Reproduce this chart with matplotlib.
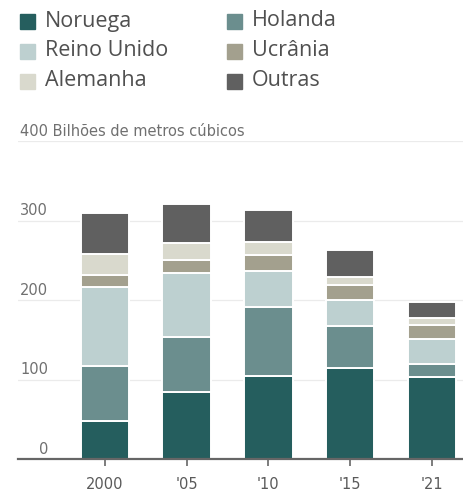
import matplotlib
matplotlib.use("Agg")
import matplotlib.pyplot as plt
from matplotlib.patches import Rectangle
import numpy as np

years = ["2000", "'05", "'10", "'15", "'21"]
series_names = ["Noruega", "Holanda", "Reino Unido", "Ucrânia", "Alemanha", "Outras"]
noruega = [48, 84, 105, 114, 103]
holanda = [69, 70, 86, 53, 17]
reino_unido = [99, 80, 46, 33, 31]
ucrania = [16, 16, 20, 19, 18]
alemanha = [26, 22, 16, 10, 8]
outras = [51, 49, 40, 34, 21]
yticks = [0, 100, 200, 300]

colors = ["#255e5e", "#6b8e8e", "#bdd0d0", "#a3a08e", "#d9d9cd", "#606060"]
series = [noruega, holanda, reino_unido, ucrania, alemanha, outras]

W, H = 464, 495
fig = plt.figure(figsize=(W / 100, H / 100), dpi=100)
ax_left, ax_right, ax_bottom, ax_top = 18, 464, 459, 141
ax = fig.add_axes([ax_left / W, (H - ax_bottom) / H, (ax_right - ax_left) / W, (ax_bottom - ax_top) / H])

x = np.arange(len(years))
bottom = np.zeros(len(years))
for vals, c in zip(series, colors):
    ax.bar(x, vals, bottom=bottom, width=0.59, color=c, edgecolor="white", linewidth=1.4, zorder=3)
    bottom += np.array(vals)

ax.set_ylim(0, 400)
ax.set_xlim(-1.06, 4.39)
for s in ["top", "right", "left"]:
    ax.spines[s].set_visible(False)
ax.spines["bottom"].set_color("#666666")
ax.spines["bottom"].set_linewidth(1.6)
ax.spines["bottom"].set_zorder(4)

for v in [100, 200, 300, 400]:
    ax.axhline(v, color="#ebebeb", linewidth=0.9, zorder=1)

ax.set_yticks([])
ax.set_xticks(x)
ax.set_xticklabels(years, fontsize=10.5, color="#5a5a5a", family="DejaVu Sans")
ax.tick_params(axis="x", length=5, width=1.2, color="#666666", pad=8)

lx = (48 - ax_left) / (ax_right - ax_left)
tr = ax.get_yaxis_transform()
for v in yticks:
    ax.text(lx, v + 3, str(v), transform=tr, ha="right", va="bottom",
            fontsize=10.5, color="#707070", family="DejaVu Sans")
ax.text((20 - ax_left) / (ax_right - ax_left), 403, "400 Bilhões de metros cúbicos", transform=tr,
        ha="left", va="bottom", fontsize=10.5, color="#707070", family="DejaVu Sans")

# legend
positions = [(20, 21), (227, 21), (20, 51), (227, 51), (20, 81), (227, 81)]
for i, (px, py) in enumerate(positions):
    sq = 15
    fig.patches.append(Rectangle((px / W, (H - py - sq / 2) / H), sq / W, sq / H,
                                 transform=fig.transFigure, color=colors[i]))
    fig.text((px + 25) / W, (H - py) / H, series_names[i], ha="left", va="center",
             fontsize=15.5, color="#505050", family="Open Sans")

fig.savefig("out.png", dpi=100, facecolor="white")
